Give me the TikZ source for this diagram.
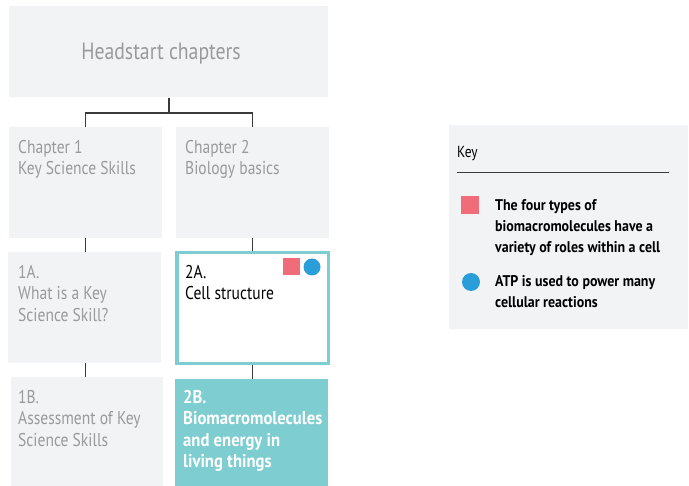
\documentclass[tikz,border=0pt]{standalone}
\usepackage{fontspec}
\setmainfont{PT Sans}[FakeStretch=0.84, BoldFeatures={FakeStretch=0.9}]
\usetikzlibrary{calc}
\definecolor{panel}{HTML}{F2F3F5}
\definecolor{greytext}{HTML}{9A9A9A}
\definecolor{teal}{HTML}{7ECDD0}
\definecolor{keyred}{HTML}{EF6C78}
\definecolor{keyblue}{HTML}{2A9ED9}
\definecolor{linecol}{HTML}{3A3A3A}
\tikzset{
  panelbox/.style={fill=panel, draw=none, inner sep=0pt},
  conn/.style={draw=linecol, line width=1.3pt},
  boxtext/.style={anchor=north west, inner sep=0pt, align=left, font=\fontsize{18.5}{21.5}\selectfont},
  dimtext/.style={boxtext, text=greytext},
  keytext/.style={anchor=north west, inner sep=0pt, align=left, font=\fontsize{15.5}{21}\selectfont\bfseries},
}
\begin{document}
\begin{tikzpicture}[x=1pt,y=-1pt]
\useasboundingbox (0,0) rectangle (689,486);

% chapter tree
\node[panelbox, minimum width=319pt, minimum height=91pt] (head) at (168,52) {};
\node[font=\fontsize{23.5}{28}\selectfont, text=greytext, inner sep=0pt] (headtxt) at (161,54) {Headstart chapters};

\node[panelbox, minimum width=153pt, minimum height=111pt] (ch1) at (85.5,182.5) {};
\node[panelbox, minimum width=153pt, minimum height=111pt] (ch2) at (252.5,182.5) {};
\node[dimtext] (ch1txt) at (18,140) {Chapter 1\\Key Science Skills};
\node[dimtext] (ch2txt) at (185,140) {Chapter 2\\Biology basics};

\node[panelbox, minimum width=153pt, minimum height=111pt] (s1a) at (84.5,307.5) {};
\node[fill=white, draw=teal, line width=3.5pt, inner sep=0pt, minimum width=151.5pt, minimum height=111pt] (s2a) at (252.5,308) {};
\node[dimtext] (s1atxt) at (18,265) {1A.\\What is a Key\\Science Skill?};
\node[boxtext, text=black] (s2atxt) at (185,265) {2A.\\Cell structure};
\node[fill=keyred, minimum size=17pt, inner sep=0pt] (s2ared) at (291,267) {};
\node[circle, fill=keyblue, minimum size=17pt, inner sep=0pt] (s2ablue) at (312,267) {};

\node[panelbox, minimum width=152pt, minimum height=112pt] (s1b) at (87,433) {};
\node[fill=teal, inner sep=0pt, minimum width=153pt, minimum height=110pt] (s2b) at (251.5,434) {};
\node[dimtext] (s1btxt) at (18,390) {1B.\\Assessment of Key\\Science Skills};
\node[boxtext, text=white, font=\fontsize{18.5}{21.5}\selectfont\bfseries] (s2btxt) at (183,390) {2B.\\Biomacromolecules\\and energy in\\living things};

% connectors
\coordinate (bus) at (169,113);
\draw[conn] (head.south -| bus) -- (bus);
\draw[conn] (ch1.north) |- (bus) -| (ch2.north);
\draw[conn] (ch1.south) -- (s1a.north -| ch1.south);
\draw[conn] (ch2.south) -- (s2a.north -| ch2.south);
\draw[conn] (s1a.south -| ch1.south) -- (s1b.north -| ch1.south);
\draw[conn] (s2a.south -| ch2.south) -- (s2b.north -| ch2.south);

% key
\node[panelbox, minimum width=239pt, minimum height=204pt] (key) at (568.5,227) {};
\node[anchor=north west, inner sep=0pt, font=\fontsize{16}{18}\selectfont] (keytitle) at (457,146) {Key};
\coordinate (rulel) at (457,173);
\coordinate (ruler) at (669,173);
\draw[draw=linecol, line width=1pt] (rulel) -- (ruler);
\node[fill=keyred, minimum size=18pt, inner sep=0pt] (keyred) at (469.5,205) {};
\node[keytext] (keyredtxt) at (495,199) {The four types of\\biomacromolecules have a\\variety of roles within a cell};
\node[circle, fill=keyblue, minimum size=18pt, inner sep=0pt] (keyblue) at (471,282) {};
\node[keytext] (keybluetxt) at (495,275) {ATP is used to power many\\cellular reactions};
\end{tikzpicture}
\end{document}
